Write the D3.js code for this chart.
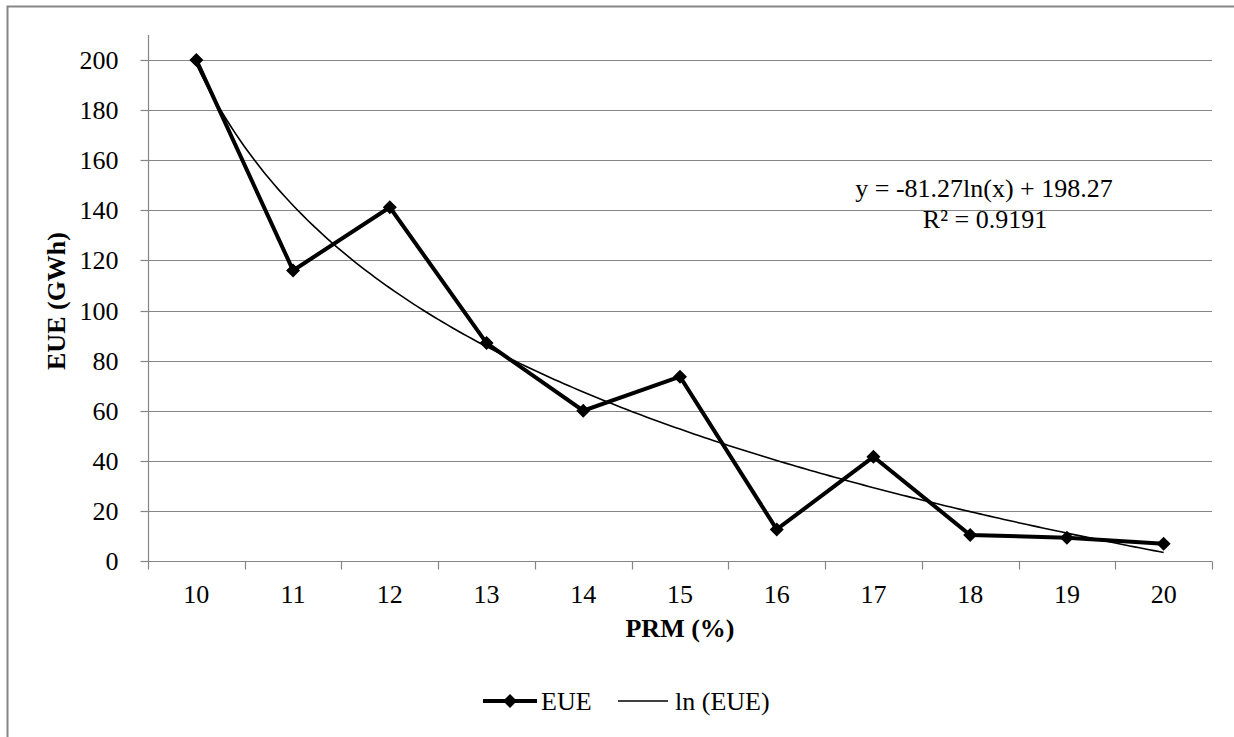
<!DOCTYPE html>
<html><head><meta charset="utf-8">
<script src="https://cdn.jsdelivr.net/npm/d3@7"></script>
<style>
html,body{margin:0;padding:0;background:#fff;}
svg{display:block;}
svg text{font-family:"Liberation Serif","Times New Roman",serif;}
</style></head>
<body>
<svg id="chart" width="1234" height="737"></svg>
<script>
const categories = [10, 11, 12, 13, 14, 15, 16, 17, 18, 19, 20];
const eueValues = [200, 116, 141.2, 87, 60, 73.6, 12.6, 41.6, 10.4, 9.3, 6.9];
const yTicks = [0, 20, 40, 60, 80, 100, 120, 140, 160, 180, 200];
const trendCoefA = -81.27;   // from label: y = -81.27ln(x) + 198.27
const trendCoefB = 198.27;
const equationLines = ["y = -81.27ln(x) + 198.27", "R² = 0.9191"];
const xTitle = "PRM (%)";
const yTitle = "EUE (GWh)";
const legendNames = ["EUE", "ln (EUE)"];

const FONT = '"Liberation Serif","Times New Roman",serif';
const svg = d3.select("#chart");
const gray = "#868686";
const L = 148, R = 1212, T = 35, B = 561;

// outer frame
svg.append("rect").attr("x", 7.5).attr("y", 6.5).attr("width", 1240).attr("height", 760)
  .attr("fill", "none").attr("stroke", gray).attr("stroke-width", 2);

const x = d3.scaleBand().domain(categories).range([L, R]).paddingInner(0).paddingOuter(0);
const bw = x.bandwidth();
const cx = c => x(c) + bw / 2;
const y = d3.scaleLinear().domain([0, 210]).range([B, T]);

// gridlines
svg.append("g").selectAll("line").data(yTicks.filter(d => d > 0)).join("line")
  .attr("x1", L).attr("x2", R).attr("y1", d => Math.round(y(d)) + 0.5).attr("y2", d => Math.round(y(d)) + 0.5)
  .attr("stroke", gray).attr("stroke-width", 1.2);

// y axis
const yAxis = d3.axisLeft(y).tickValues(yTicks).tickSize(8).tickPadding(22).tickFormat(d3.format("d"));
const gy = svg.append("g").attr("transform", `translate(${L + 0.5},0)`).call(yAxis);
gy.attr("font-family", null);
gy.select(".domain").attr("d", `M0,${T}V${B + 0.5}`).attr("stroke", gray).attr("stroke-width", 1.2);
gy.selectAll(".tick line").attr("stroke", gray).attr("stroke-width", 1.2);
gy.selectAll(".tick").attr("transform", d => `translate(0,${Math.round(y(d)) + 0.5})`);
gy.selectAll(".tick text").attr("font-size", 26).attr("fill", "#000")
  .style("font-family", FONT).attr("dy", "0.34em");

// x axis
const xAxis = d3.axisBottom(x).tickSize(0).tickPadding(0);
const gx = svg.append("g").attr("transform", `translate(0,${B + 0.5})`).call(xAxis);
gx.attr("font-family", null);
gx.select(".domain").attr("d", `M${L},0H${R}`).attr("stroke", gray).attr("stroke-width", 1.2);
gx.selectAll(".tick text").attr("font-size", 26).attr("fill", "#000")
  .style("font-family", FONT).attr("y", 41).attr("dy", 0);
// boundary ticks
const boundaries = categories.map(c => x(c)).concat([R]);
gx.append("g").selectAll("line").data(boundaries).join("line")
  .attr("x1", d => Math.round(d) + 0.5).attr("x2", d => Math.round(d) + 0.5)
  .attr("y1", 0).attr("y2", 8).attr("stroke", gray).attr("stroke-width", 1.2);

// axis titles
svg.append("text").attr("x", (L + R) / 2).attr("y", 637).attr("text-anchor", "middle")
  .attr("font-size", 26).attr("font-weight", "bold").style("font-family", FONT).text(xTitle);
svg.append("text").attr("transform", `translate(65,${(T + B) / 2 + 3}) rotate(-90)`).attr("text-anchor", "middle")
  .attr("font-size", 26).attr("font-weight", "bold").style("font-family", FONT).text(yTitle);

// trend line
const xt = d3.scaleLinear().domain([1, categories.length]).range([cx(categories[0]), cx(categories[categories.length - 1])]);
const tSamples = d3.range(1, categories.length + 0.0001, 0.05);
svg.append("path").datum(tSamples)
  .attr("d", d3.line().x(t => xt(t)).y(t => y(trendCoefA * Math.log(t) + trendCoefB)))
  .attr("fill", "none").attr("stroke", "#000").attr("stroke-width", 1.6);

// EUE line
const data = categories.map((c, i) => ({c, v: eueValues[i]}));
svg.append("path").datum(data)
  .attr("d", d3.line().x(d => cx(d.c)).y(d => y(d.v)))
  .attr("fill", "none").attr("stroke", "#000").attr("stroke-width", 4).attr("stroke-linejoin", "miter");
const diamond = d3.symbol().type(d3.symbolSquare).size(98);
svg.append("g").selectAll("path").data(data).join("path")
  .attr("d", diamond())
  .attr("transform", d => `translate(${cx(d.c)},${y(d.v)}) rotate(45)`)
  .attr("fill", "#000");

// equation label
const eq = svg.append("text").attr("text-anchor", "middle").attr("font-size", 26).style("font-family", FONT);
eq.append("tspan").attr("x", 984).attr("y", 197).text(equationLines[0]);
eq.append("tspan").attr("x", 985).attr("y", 228).text(equationLines[1]);

// legend
const ly = 701;
const lg = svg.append("g");
lg.append("line").attr("x1", 483).attr("x2", 537).attr("y1", ly).attr("y2", ly).attr("stroke", "#000").attr("stroke-width", 4);
lg.append("path").attr("d", diamond()).attr("transform", `translate(510,${ly}) rotate(45)`).attr("fill", "#000");
lg.append("text").attr("x", 541).attr("y", ly + 9).attr("font-size", 26).style("font-family", FONT).text(legendNames[0]);
lg.append("line").attr("x1", 618).attr("x2", 668).attr("y1", ly).attr("y2", ly).attr("stroke", "#000").attr("stroke-width", 1.6);
lg.append("text").attr("x", 675).attr("y", ly + 9).attr("font-size", 26).style("font-family", FONT).text(legendNames[1]);
</script>
</body></html>
